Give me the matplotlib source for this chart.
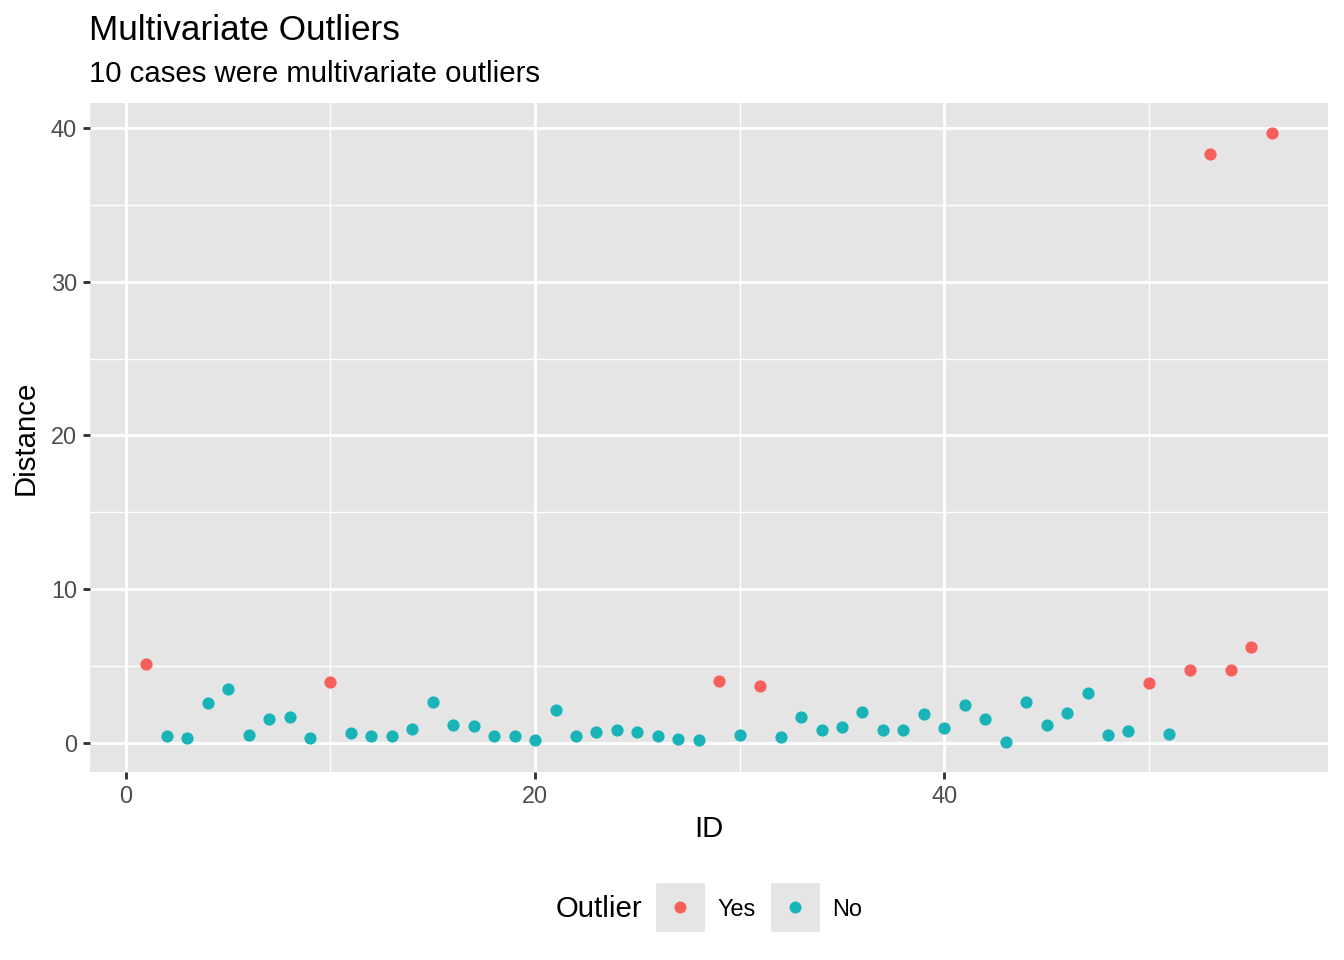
import numpy as np
import matplotlib
matplotlib.use("Agg")
import matplotlib.pyplot as plt
from matplotlib.lines import Line2D
from matplotlib.legend_handler import HandlerTuple

plt.rcParams['font.family'] = ['Liberation Sans', 'DejaVu Sans']

# distances, one per case ID 1..56
ids = list(range(1, 57))
distance = [5.09, 0.46, 0.33, 2.60, 3.50, 0.52, 1.57, 1.70, 0.33, 3.98,
            0.65, 0.46, 0.46, 0.91, 2.67, 1.17, 1.10, 0.46, 0.46, 0.20,
            2.15, 0.46, 0.72, 0.85, 0.72, 0.46, 0.26, 0.20, 4.04, 0.52,
            3.72, 0.39, 1.70, 0.85, 1.04, 2.02, 0.85, 0.85, 1.89, 0.98,
            2.48, 1.57, 0.07, 2.67, 1.17, 1.96, 3.26, 0.52, 0.78, 3.91,
            0.59, 4.70, 38.30, 4.70, 6.20, 39.66]
outlier_ids = [1, 10, 29, 31, 50, 52, 53, 54, 55, 56]
outlier = ['Yes' if i in outlier_ids else 'No' for i in ids]
groups = ['Yes', 'No']
colors = {'Yes': '#F65F5A', 'No': '#19B4B8'}

x = np.array(ids)
y = np.array(distance)
o = np.array(outlier)

fig = plt.figure(figsize=(7, 5), dpi=192)
ax = fig.add_axes([90/1344, 1-772/960, (1328-90)/1344, (772-103)/960])
ax.set_facecolor('#E5E5E5')
for s in ax.spines.values():
    s.set_visible(False)

for g in groups:
    m = o == g
    ax.scatter(x[m], y[m], s=21, color=colors[g], linewidths=0, zorder=3)

xr = x.max() - x.min()
yr = y.max() - y.min()
ax.set_xlim(x.min() - 0.05*xr, x.max() + 0.05*xr)
ax.set_ylim(y.min() - 0.05*yr, y.max() + 0.05*yr)

ax.set_xticks([0, 20, 40])
ax.set_xticks([10, 30, 50], minor=True)
ax.set_yticks([0, 10, 20, 30, 40])
ax.set_yticks([5, 15, 25, 35], minor=True)
ax.grid(which='major', color='white', linewidth=1.07, zorder=0)
ax.grid(which='minor', color='white', linewidth=0.53, zorder=0)
ax.set_axisbelow(True)
ax.tick_params(which='major', length=2.75, width=1.07, color='#333333',
               labelsize=8.8, labelcolor='#4D4D4D', pad=2.2)
ax.tick_params(which='minor', length=0)

ax.set_xlabel('ID', fontsize=11, labelpad=2.5)
ax.set_ylabel('Distance', fontsize=11, labelpad=4)

fig.text(89/1344, 1-31/960, 'Multivariate Outliers', fontsize=13.2,
         ha='left', va='center')
fig.text(89/1344, 1-74/960, '10 cases were multivariate outliers', fontsize=11,
         ha='left', va='center')

handles = [(Line2D([], [], marker='s', ms=17.28, color='#E5E5E5', linestyle='none'),
            Line2D([], [], marker='o', ms=4.5, color=colors[g], linestyle='none',
                   markeredgewidth=0))
           for g in groups]
fig.text(556/1344, 1-909/960, 'Outlier', fontsize=11, ha='left', va='center')
fig.legend(handles, groups, handler_map={tuple: HandlerTuple(ndivide=1, pad=0)},
           loc='center left', bbox_to_anchor=(657/1344, 1-909/960), ncol=2,
           frameon=False, fontsize=8.8, handlelength=1.96, handletextpad=0.6,
           columnspacing=0.7, borderaxespad=0, borderpad=0)

fig.savefig('out.png', dpi=192, facecolor='white')
